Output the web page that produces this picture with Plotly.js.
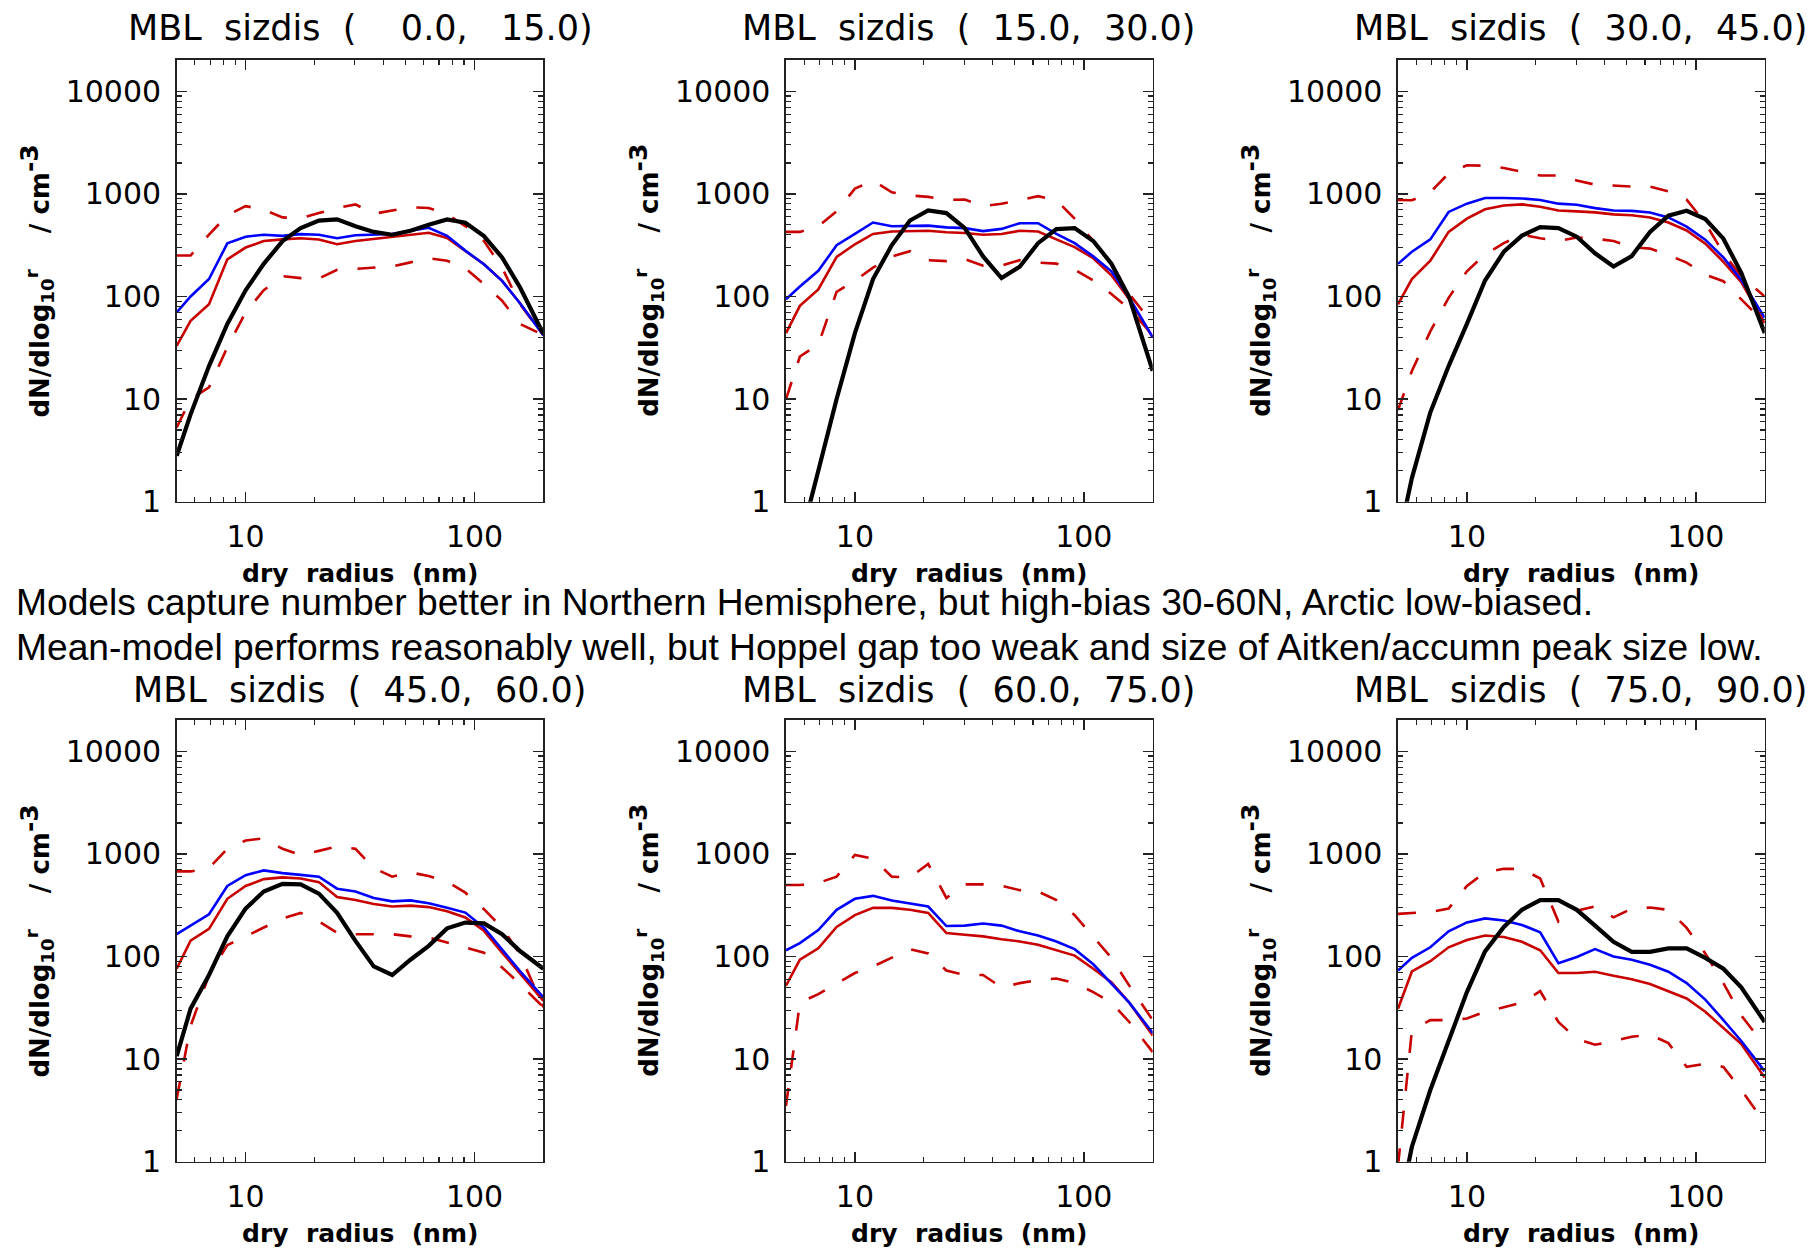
<!DOCTYPE html>
<html>
<head>
<meta charset="utf-8">
<script src="https://cdn.plot.ly/plotly-3.0.1.min.js"></script>
<style>
html, body { margin: 0; padding: 0; background: #ffffff; }
#chart { width: 1819px; height: 1252px; }
</style>
</head>
<body>
<div id="chart"></div>
<script>
// ---------------- DATA ----------------
const radius = [5, 5.75, 6.92, 8.32, 10, 12, 14.5, 17.4, 20.9, 25.1, 30.2, 36.3, 43.7, 52.5, 63.1, 75.9, 91.2, 110, 132, 158, 200];

const latBands = ["\u00a0\u00a0\u00a0\u00a00.0,\u00a0\u00a0\u00a015.0", "\u00a0\u00a015.0,\u00a0\u00a030.0", "\u00a0\u00a030.0,\u00a0\u00a045.0",
                  "\u00a0\u00a045.0,\u00a0\u00a060.0", "\u00a0\u00a060.0,\u00a0\u00a075.0", "\u00a0\u00a075.0,\u00a0\u00a090.0"];

// 0-15
const p1Mean   = [70, 100, 148, 330, 383, 400, 390, 405, 400, 370, 395, 400, 407, 437, 468, 390, 280, 206, 142, 86, 42];
const p1Median = [33, 58, 84, 230, 300, 347, 360, 370, 360, 323, 347, 363, 383, 400, 418, 372, 280, 206, 142, 86, 42];
const p1Hi     = [251, 251, 400, 620, 760, 700, 590, 580, 650, 730, 790, 640, 690, 740, 730, 631, 486, 347, 191, 84, 42];
const p1Lo     = [5.3, 10, 13, 32, 70, 115, 158, 151, 150, 182, 186, 190, 196, 215, 236, 223, 189, 132, 91, 54, 42];
const p1Obs    = [2.8, 7.1, 21, 54, 115, 208, 347, 464, 550, 565, 484, 426, 400, 437, 500, 564, 524, 388, 240, 123, 43];
// 15-30
const p2Mean   = [94, 125, 178, 316, 407, 526, 484, 484, 491, 472, 464, 434, 456, 518, 518, 407, 331, 246, 176, 98, 40];
const p2Median = [44, 81, 117, 243, 323, 407, 430, 437, 437, 423, 416, 400, 407, 437, 430, 360, 303, 236, 161, 94, 40];
const p2Hi     = [426, 426, 484, 676, 1125, 1350, 1035, 966, 935, 873, 880, 760, 800, 870, 950, 870, 574, 347, 209, 106, 54];
const p2Lo     = [10, 26, 34, 111, 143, 191, 246, 276, 226, 221, 232, 200, 200, 226, 214, 209, 183, 143, 106, 76, 42];
const p2Obs    = [0.15, 0.4, 2.0, 10, 44, 148, 317, 550, 690, 650, 464, 246, 151, 195, 331, 453, 464, 347, 209, 98, 18.8];
// 30-45
const p3Mean   = [208, 273, 360, 667, 803, 912, 912, 903, 873, 803, 783, 727, 690, 683, 658, 590, 480, 358, 240, 145, 62];
const p3Median = [84, 148, 223, 426, 574, 708, 770, 790, 750, 690, 676, 660, 632, 620, 590, 527, 440, 328, 218, 138, 55];
const p3Hi     = [873, 866, 1035, 1585, 1900, 1880, 1790, 1645, 1510, 1510, 1350, 1230, 1200, 1180, 1175, 1060, 880, 520, 264, 157, 100];
const p3Lo     = [7.8, 18.8, 45.7, 97, 176, 257, 331, 400, 370, 347, 376, 366, 347, 302, 293, 253, 214, 163, 141, 94, 55];
const p3Obs    = [0.4, 1.7, 7.4, 21, 54, 143, 273, 392, 474, 464, 383, 264, 196, 248, 425, 612, 684, 569, 366, 170, 44];
// 45-60
const p4Mean   = [165, 200, 258, 487, 620, 690, 650, 625, 600, 458, 430, 372, 345, 352, 331, 299, 268, 191, 118, 72, 40];
const p4Median = [76, 143, 186, 365, 487, 568, 590, 575, 531, 380, 355, 325, 307, 313, 303, 276, 240, 178, 109, 68, 37];
const p4Hi     = [675, 675, 727, 1120, 1350, 1420, 1120, 975, 1070, 1180, 1120, 727, 600, 660, 608, 536, 419, 289, 191, 105, 32];
const p4Lo     = [4.1, 21, 66, 129, 157, 190, 235, 266, 220, 170, 165, 165, 165, 157, 153, 137, 122, 109, 78, 54, 32];
const p4Obs    = [10.7, 31, 66, 157, 293, 430, 510, 505, 410, 266, 142, 80, 66, 93, 127, 188, 214, 210, 165, 113, 76];
// 60-75
const p5Mean   = [115, 135, 181, 285, 365, 390, 352, 331, 307, 198, 200, 210, 200, 176, 160, 140, 118, 84, 55, 35.5, 18];
const p5Median = [52, 93, 120, 194, 253, 298, 298, 285, 266, 169, 163, 157, 147, 140, 130, 115, 102, 76, 56, 35.5, 17];
const p5Hi     = [497, 497, 521, 600, 975, 900, 600, 590, 800, 372, 505, 505, 488, 443, 430, 355, 253, 157, 97, 52, 24];
const p5Lo     = [3.5, 35.5, 43, 55, 69, 80, 97, 118, 107, 73, 66, 66, 50, 55, 59, 61, 55, 45, 35.5, 23, 11.7];
const p5Obs    = null;
// 75-90
const p6Mean   = [73, 97, 123, 176, 215, 235, 224, 203, 172, 86, 99, 118, 100, 93, 83, 71, 55, 38, 24, 15, 7.6];
const p6Median = [31, 71.5, 90, 123, 145, 160, 155, 139, 115, 69, 69, 71, 65, 60, 54, 46, 39, 29, 20, 14, 6.6];
const p6Hi     = [260, 265, 272, 293, 488, 660, 715, 715, 575, 219, 279, 308, 241, 293, 300, 285, 190, 107, 55, 26.6, 13.5];
const p6Lo     = [0.9, 19, 24, 24, 24.9, 29, 32, 35.5, 46, 23, 15.7, 13.8, 15, 16.5, 17.3, 14.3, 8.4, 9, 8.4, 5, 2.4];
const p6Obs    = [0.3, 1.4, 5, 15, 45, 112, 194, 285, 355, 355, 285, 200, 139, 111, 111, 120, 120, 97, 76, 50, 23];

const xTickVals = [10, 100];
const xTickText = ["10", "100"];
const yTickVals = [1, 10, 100, 1000, 10000];
const yTickText = ["1", "10", "100", "1000", "10000"];

const noteLine1 = "Models capture number better in Northern Hemisphere, but high-bias 30-60N, Arctic low-biased.";
const noteLine2 = "Mean-model performs reasonably well, but Hoppel gap too weak and size of Aitken/accumn peak size low.";

// ---------------- BUILD ----------------
const panels = [
  {mean: p1Mean, median: p1Median, hi: p1Hi, lo: p1Lo, obs: p1Obs},
  {mean: p2Mean, median: p2Median, hi: p2Hi, lo: p2Lo, obs: p2Obs},
  {mean: p3Mean, median: p3Median, hi: p3Hi, lo: p3Lo, obs: p3Obs},
  {mean: p4Mean, median: p4Median, hi: p4Hi, lo: p4Lo, obs: p4Obs},
  {mean: p5Mean, median: p5Median, hi: p5Hi, lo: p5Lo, obs: p5Obs},
  {mean: p6Mean, median: p6Median, hi: p6Hi, lo: p6Lo, obs: p6Obs}
];

const W = 1819, H = 1252;
const colLeft = [176.7, 786.0, 1398.0];
const plotW = 366.7;
const rowTop = [60.0, 720.0];
const plotH = 441.7;

const RED = "#c80000", BLUE = "#0000ff", BLACK = "#000000";
const NB = "\u00a0";

const traces = [];
const layout = {
  width: W, height: H,
  margin: {l: 0, r: 0, t: 0, b: 0, pad: 0},
  paper_bgcolor: "#ffffff",
  plot_bgcolor: "#ffffff",
  showlegend: false,
  annotations: []
};

const tickFont = {family: "DejaVu Sans, sans-serif", size: 30, color: "#000000"};
const titleFont = {family: "DejaVu Sans, sans-serif", size: 35, color: "#000000"};
const axTitleFont = {family: "DejaVu Sans, sans-serif", size: 25, color: "#000000", weight: "bold"};

panels.forEach((p, i) => {
  const row = Math.floor(i / 3), col = i % 3;
  const n = i + 1;
  const xa = "x" + (n === 1 ? "" : n), ya = "y" + (n === 1 ? "" : n);
  const xk = "xaxis" + (n === 1 ? "" : n), yk = "yaxis" + (n === 1 ? "" : n);
  const x0 = colLeft[col] / W, x1 = (colLeft[col] + plotW) / W;
  const yTop = 1 - rowTop[row] / H, yBot = 1 - (rowTop[row] + plotH) / H;

  const common = {
    showline: true, linecolor: "#222222", linewidth: 1.6, mirror: "ticks",
    ticks: "inside", ticklen: 10, tickwidth: 1.4, tickcolor: "#222222",
    showgrid: false, zeroline: false, tickfont: tickFont, fixedrange: true,
    tickmode: "array",
    minor: {ticks: "inside", ticklen: 5, tickwidth: 1.1, tickcolor: "#222222", dtick: "D1", showgrid: false}
  };
  layout[xk] = Object.assign({}, common, {
    type: "log", domain: [x0, x1], anchor: ya,
    range: [Math.log10(5), Math.log10(200)],
    tickvals: xTickVals, ticktext: xTickText,
    ticklabelstandoff: 8
  });
  layout[yk] = Object.assign({}, common, {
    type: "log", domain: [yBot, yTop], anchor: xa,
    range: [0, 4.305],
    tickvals: yTickVals, ticktext: yTickText,
    ticklabelstandoff: 8
  });

  const dash = {width: 2.6, color: RED, dash: "18px,20px"};
  traces.push({x: radius, y: p.hi, xaxis: xa, yaxis: ya, mode: "lines", line: dash, hoverinfo: "skip"});
  traces.push({x: radius, y: p.lo, xaxis: xa, yaxis: ya, mode: "lines", line: dash, hoverinfo: "skip"});
  traces.push({x: radius, y: p.median, xaxis: xa, yaxis: ya, mode: "lines", line: {width: 2.6, color: RED}, hoverinfo: "skip"});
  traces.push({x: radius, y: p.mean, xaxis: xa, yaxis: ya, mode: "lines", line: {width: 2.6, color: BLUE}, hoverinfo: "skip"});
  if (p.obs) {
    traces.push({x: radius, y: p.obs, xaxis: xa, yaxis: ya, mode: "lines", line: {width: 4.2, color: BLACK}, hoverinfo: "skip"});
  }

  const cx = (colLeft[col] + plotW / 2) / W;
  // panel title
  layout.annotations.push({
    xref: "paper", yref: "paper", x: cx, y: 1 - (row === 0 ? 28 : 690) / H,
    xanchor: "center", yanchor: "middle", showarrow: false,
    text: "MBL" + NB + NB + "sizdis" + NB + NB + "(" + latBands[i] + ")",
    font: titleFont
  });
  // x-axis title
  layout.annotations.push({
    xref: "paper", yref: "paper", x: cx, y: 1 - (rowTop[row] + plotH + 72) / H,
    xanchor: "center", yanchor: "middle", showarrow: false,
    text: "<b>dry" + NB + NB + "radius" + NB + NB + "(nm)</b>",
    font: axTitleFont
  });
  // y-axis title
  layout.annotations.push({
    xref: "paper", yref: "paper", x: (colLeft[col] - 140) / W, y: 1 - (rowTop[row] + plotH / 2) / H,
    xanchor: "center", yanchor: "middle", showarrow: false, textangle: -90,
    text: "<b>dN/dlog<sub>10</sub><sup>r</sup>" + NB.repeat(4) + "/" + NB + "cm<sup><span style=\"font-size:25px\">-3</span></sup></b>",
    font: {family: "DejaVu Sans, sans-serif", size: 26, color: "#000000", weight: "bold"}
  });
});

layout.annotations.push({
  xref: "paper", yref: "paper", x: 14 / W, y: 1 - 602 / H,
  xanchor: "left", yanchor: "middle", showarrow: false,
  text: noteLine1, font: {family: "Liberation Sans, Arial, sans-serif", size: 37.2, color: "#000000"}
});
layout.annotations.push({
  xref: "paper", yref: "paper", x: 14 / W, y: 1 - 647 / H,
  xanchor: "left", yanchor: "middle", showarrow: false,
  text: noteLine2, font: {family: "Liberation Sans, Arial, sans-serif", size: 37.2, color: "#000000"}
});

Plotly.newPlot("chart", traces, layout, {staticPlot: true, displayModeBar: false});
</script>
</body>
</html>
